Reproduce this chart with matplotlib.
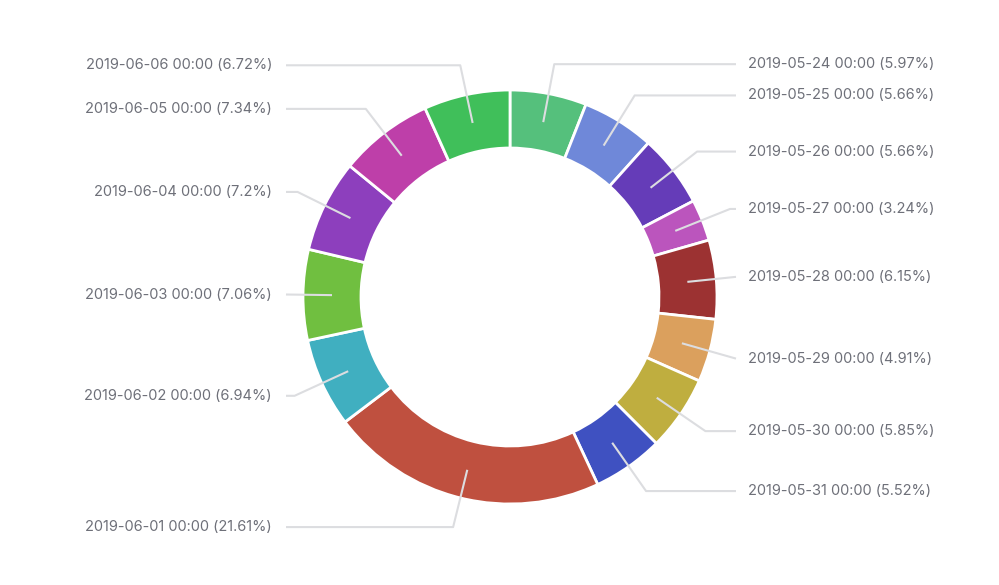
import numpy as np
import matplotlib
matplotlib.use("Agg")
import matplotlib.pyplot as plt

categories = ["2019-05-24 00:00", "2019-05-25 00:00", "2019-05-26 00:00", "2019-05-27 00:00",
              "2019-05-28 00:00", "2019-05-29 00:00", "2019-05-30 00:00", "2019-05-31 00:00",
              "2019-06-01 00:00", "2019-06-02 00:00", "2019-06-03 00:00", "2019-06-04 00:00",
              "2019-06-05 00:00", "2019-06-06 00:00"]
values = [5.97, 5.66, 5.66, 3.24, 6.15, 4.91, 5.85, 5.52, 21.61, 6.94, 7.06, 7.2, 7.34, 6.72]
colors = ["#55c07c", "#6f88d9", "#653cb8", "#bb55bd", "#9c3232", "#dba05d", "#bfae3f",
          "#3f51c1", "#bf503f", "#40afc0", "#70bf40", "#8d3fbd", "#be3fa9", "#40bf5a"]

W, H = 999, 585
fig = plt.figure(figsize=(W / 100, H / 100), dpi=100)
ax = fig.add_axes([0, 0, 1, 1])
ax.set_xlim(0, W)
ax.set_ylim(0, H)
ax.set_aspect("equal")
ax.axis("off")

cx, cy = 510, H - 297
R_out, R_in = 207, 149
ax.pie(values, colors=colors, startangle=90, counterclock=False,
       center=(cx, cy), radius=R_out,
       wedgeprops=dict(width=R_out - R_in, edgecolor="white", linewidth=2))
ax.set_xlim(0, W)
ax.set_ylim(0, H)

total = sum(values)
cum = np.cumsum([0] + values[:-1])
r_start = (R_out + R_in) / 2
r_elbow = 237
line_col = "#dcdde0"
text_col = "#6e7079"
for cat, v, c0 in zip(categories, values, cum):
    frac = (c0 + v / 2) / total
    theta = np.deg2rad(90 - 360 * frac)
    x0, y0 = cx + r_start * np.cos(theta), cy + r_start * np.sin(theta)
    x1, y1 = cx + r_elbow * np.cos(theta), cy + r_elbow * np.sin(theta)
    right = np.cos(theta) >= 0
    x2 = 736 if right else 286
    if right:
        x1 = min(x1, x2)
    else:
        x1 = max(x1, x2)
    ax.plot([x0, x1, x2], [y0, y1, y1], color=line_col, lw=1.5, zorder=3,
            solid_capstyle="butt")
    label = f"{cat} ({v:g}%)"
    if right:
        ax.text(748, y1, label, ha="left", va="center", color=text_col,
                fontsize=10.5, family="Inter")
    else:
        ax.text(272, y1, label, ha="right", va="center", color=text_col,
                fontsize=10.5, family="Inter")

fig.savefig("out.png", dpi=100)
